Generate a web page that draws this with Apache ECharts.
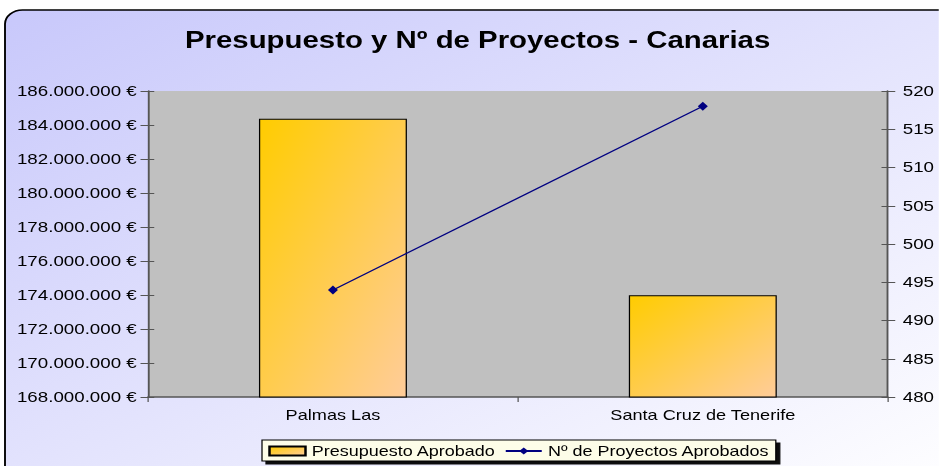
<!DOCTYPE html>
<html>
<head>
<meta charset="utf-8">
<script src="https://cdn.jsdelivr.net/npm/echarts@6/dist/echarts.min.js"></script>
<style>
  html, body { margin: 0; padding: 0; background: #ffffff; overflow: hidden; }
  /* the chart is laid out narrower and widened by 25% so its lettering runs broad */
  #chart { width: 751.2px; height: 466px; transform: scaleX(1.25); transform-origin: 0 0; }
</style>
</head>
<body>
<div id="chart"></div>
<script>
// Categories and values
const categories = ['Palmas Las', 'Santa Cruz de Tenerife'];
const presupuesto = [184370000, 173990000];
const proyectos = [494, 518];
const seriesNames = ['Presupuesto Aprobado', 'Nº de Proyectos Aprobados'];
const titleText = 'Presupuesto y Nº de Proyectos - Canarias';

// horizontal widening factor applied to the whole chart
const SX = 1.25;
const px = v => v / SX;

function euro(v) {
  return String(Math.round(v)).replace(/\B(?=(\d{3})+(?!\d))/g, '.') + ' €';
}

const chart = echarts.init(document.getElementById('chart'), null, { renderer: 'svg' });
const font = 'Liberation Sans, Arial, sans-serif';
const axisColor = '#555555';

const tickOut = { show: true, length: 6, lineStyle: { color: axisColor } };
const tickIn = { show: true, inside: true, length: 5, lineStyle: { color: axisColor } };

chart.setOption({
  animation: false,
  textStyle: { fontFamily: font },
  graphic: [{
    type: 'rect',
    z: -10,
    shape: { x: px(5), y: 10, width: px(960), height: 480, r: 14 },
    style: {
      fill: new echarts.graphic.LinearGradient(0, 0, 1, 1, [
        { offset: 0, color: '#c8c8fb' },
        { offset: 1, color: '#ffffff' }
      ]),
      stroke: '#000000',
      lineWidth: 1.5
    }
  }],
  title: {
    text: titleText,
    left: px(185),
    top: 28,
    padding: 0,
    textStyle: { fontFamily: font, fontSize: 23.5, fontWeight: 'bold', color: '#000000' }
  },
  legend: {
    left: px(262),
    top: 440,
    padding: [4, 5, 3, 5],
    itemWidth: px(36),
    itemHeight: 9,
    itemGap: 7,
    borderColor: '#000000',
    borderWidth: 1,
    backgroundColor: '#fdfde8',
    shadowColor: 'rgba(0,0,0,0.95)',
    shadowOffsetX: px(4),
    shadowOffsetY: 3,
    shadowBlur: 0,
    textStyle: { fontFamily: font, fontSize: 14.4, color: '#000000' },
    data: [
      { name: seriesNames[0], icon: 'rect' },
      { name: seriesNames[1] }
    ]
  },
  grid: { left: px(148), right: px(51), top: 91, bottom: 69, containLabel: false,
          show: true, backgroundColor: '#c0c0c0', borderWidth: 0 },
  xAxis: {
    type: 'category',
    data: categories,
    axisLine: { lineStyle: { color: axisColor, width: 1.5 } },
    axisTick: { show: true, alignWithLabel: false, length: 5, lineStyle: { color: axisColor } },
    axisLabel: { fontFamily: font, fontSize: 14.5, color: '#000000', margin: 10 }
  },
  yAxis: [{
    type: 'value',
    min: 168000000,
    max: 186000000,
    interval: 2000000,
    position: 'left',
    splitLine: { show: false },
    axisLine: { show: true, lineStyle: { color: axisColor, width: 1.5 } },
    axisTick: tickOut,
    axisLabel: { fontFamily: font, fontSize: 15, color: '#000000', margin: 9, formatter: euro }
  }, {
    type: 'value',
    min: 480,
    max: 520,
    interval: 5,
    position: 'right',
    splitLine: { show: false },
    axisLine: { show: true, lineStyle: { color: axisColor, width: 1.5 } },
    axisTick: tickOut,
    axisLabel: { fontFamily: font, fontSize: 15, color: '#000000', margin: 12 }
  }, {
    // inner halves of the left ticks
    type: 'value',
    min: 168000000,
    max: 186000000,
    interval: 2000000,
    position: 'left',
    splitLine: { show: false },
    axisLine: { show: false },
    axisTick: tickIn,
    axisLabel: { show: false }
  }, {
    // inner halves of the right ticks
    type: 'value',
    min: 480,
    max: 520,
    interval: 5,
    position: 'right',
    splitLine: { show: false },
    axisLine: { show: false },
    axisTick: tickIn,
    axisLabel: { show: false }
  }],
  series: [{
    name: seriesNames[0],
    type: 'bar',
    yAxisIndex: 0,
    data: presupuesto,
    barWidth: '40%',
    itemStyle: {
      color: new echarts.graphic.LinearGradient(0, 0, 1, 1, [
        { offset: 0, color: '#ffcc00' },
        { offset: 1, color: '#ffcc99' }
      ]),
      borderColor: '#000000',
      borderWidth: 1
    }
  }, {
    name: seriesNames[1],
    type: 'line',
    yAxisIndex: 1,
    data: proyectos,
    symbol: 'diamond',
    symbolSize: [8, 9],
    lineStyle: { color: '#000080', width: 1.2 },
    itemStyle: { color: '#000080' }
  }]
});
</script>
</body>
</html>
